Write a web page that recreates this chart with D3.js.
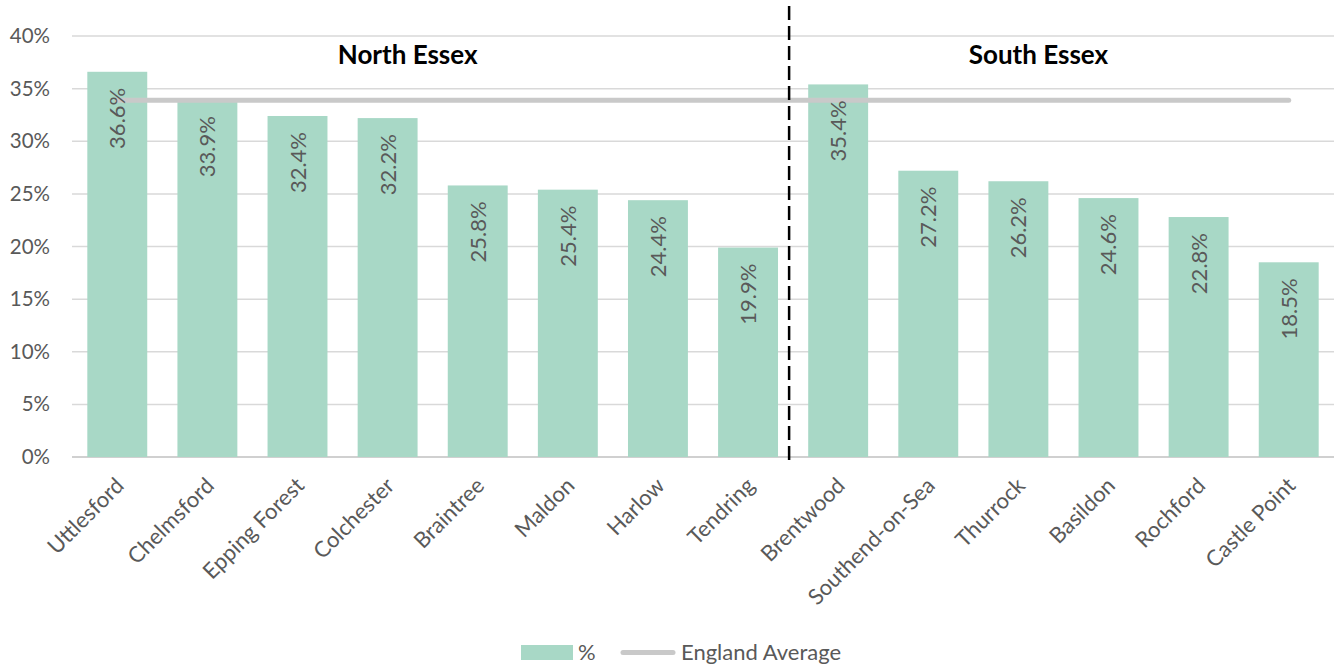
<!DOCTYPE html>
<html><head><meta charset="utf-8">
<script src="https://cdn.jsdelivr.net/npm/d3@7"></script>
<style>body{margin:0;background:#fff}svg{display:block}</style>
</head><body>
<svg id="c" width="1343" height="666"></svg>
<script>
const categories = ["Uttlesford","Chelmsford","Epping Forest","Colchester","Braintree","Maldon","Harlow","Tendring","Brentwood","Southend-on-Sea","Thurrock","Basildon","Rochford","Castle Point"];
const values = [36.6,33.9,32.4,32.2,25.8,25.4,24.4,19.9,35.4,27.2,26.2,24.6,22.8,18.5];
const englandAverage = 33.9;
const yTicks = [0,5,10,15,20,25,30,35,40];
const groups = [{name:"North Essex", from:0, to:7},{name:"South Essex", from:8, to:13}];
const legendLabels = ["%","England Average"];

const svg = d3.select("#c");
const font = "Lato, 'Open Sans', sans-serif";
const pL = 72, pR = 1334, pT = 36, pB = 457;
const x = d3.scaleBand().domain(categories).range([pL,pR]).paddingInner(0.335).paddingOuter(0.17);
const y = d3.scaleLinear().domain([0,40]).range([pB,pT]);

// gridlines
svg.append("g").selectAll("line").data(yTicks).join("line")
  .attr("x1",pL).attr("x2",pR).attr("y1",d=>y(d)).attr("y2",d=>y(d))
  .attr("stroke",d=>d===0?"#d0d0d0":"#d9d9d9").attr("stroke-width",d=>d===0?2:1.5);

// y axis labels
const yAxis = d3.axisLeft(y).tickValues(yTicks).tickFormat(d=>d+"%").tickSize(0).tickPadding(22);
const ya = svg.append("g").attr("transform",`translate(${pL},0)`).call(yAxis);
ya.select(".domain").remove();
ya.selectAll("text").attr("font-family",font).attr("font-size",20.5).attr("fill","#595959");

// bars
svg.append("g").selectAll("rect").data(values).join("rect")
  .attr("x",(d,i)=>x(categories[i])).attr("width",x.bandwidth())
  .attr("y",d=>y(d)).attr("height",d=>y(0)-y(d)).attr("fill","#a8d8c6");

// England average line
svg.append("line")
  .attr("x1",x(categories[0])+x.bandwidth()/2).attr("x2",x(categories[categories.length-1])+x.bandwidth()/2)
  .attr("y1",y(englandAverage)).attr("y2",y(englandAverage))
  .attr("stroke","#c9c9c9").attr("stroke-width",5).attr("stroke-linecap","round");

// value labels
svg.append("g").selectAll("text").data(values).join("text")
  .attr("transform",(d,i)=>`translate(${x(categories[i])+x.bandwidth()/2+8},${y(d)+16}) rotate(-90)`)
  .attr("text-anchor","end").attr("font-family",font).attr("font-size",22).attr("fill","#595959")
  .text(d=>d.toFixed(1)+"%");

// x axis labels
const xa = svg.append("g").attr("transform",`translate(0,${pB})`)
  .call(d3.axisBottom(x).tickSize(0).tickPadding(0));
xa.select(".domain").remove();
xa.selectAll("text")
  .attr("font-family",font).attr("font-size",22).attr("fill","#595959")
  .attr("text-anchor","end").attr("dy",0)
  .attr("transform","translate(8,30) rotate(-45)");

// divider
const divX = (x(categories[7])+x.bandwidth()+x(categories[8]))/2 - 4;
svg.append("line").attr("x1",divX).attr("x2",divX).attr("y1",6).attr("y2",462)
  .attr("stroke","#000").attr("stroke-width",2.5).attr("stroke-dasharray","14,6");

// group titles
svg.append("g").selectAll("text").data(groups).join("text")
  .attr("x",g=>(x(categories[g.from])+x(categories[g.to])+x.bandwidth())/2 - 25)
  .attr("y",64).attr("text-anchor","middle")
  .attr("font-family",font).attr("font-weight","bold").attr("font-size",26).attr("fill","#000")
  .text(g=>g.name);

// legend
const lg = svg.append("g");
lg.append("rect").attr("x",521).attr("y",645).attr("width",52).attr("height",15).attr("fill","#a8d8c6");
lg.append("text").attr("x",578).attr("y",660).attr("font-family",font).attr("font-size",22).attr("fill","#595959").text(legendLabels[0]);
lg.append("line").attr("x1",623).attr("x2",673).attr("y1",652.5).attr("y2",652.5).attr("stroke","#c9c9c9").attr("stroke-width",5).attr("stroke-linecap","round");
lg.append("text").attr("x",681).attr("y",660).attr("font-family",font).attr("font-size",22).attr("fill","#595959").text(legendLabels[1]);
</script>
</body></html>
